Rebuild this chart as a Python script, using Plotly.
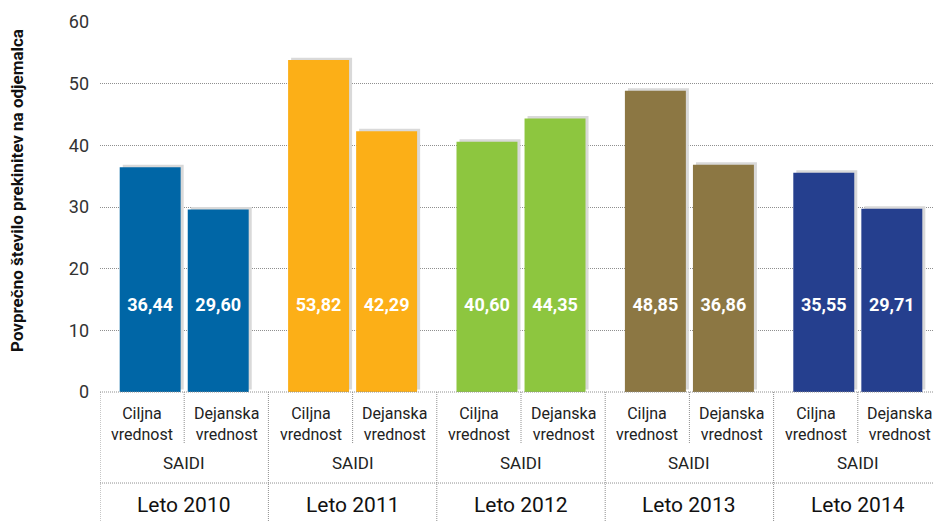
"""SAIDI: ciljna in dejanska vrednost po letih."""
import numpy as np
import plotly.graph_objects as go

# Podatki
LETA = ["Leto 2010", "Leto 2011", "Leto 2012", "Leto 2013", "Leto 2014"]
CILJNA = [36.44, 53.82, 40.60, 48.85, 35.55]
DEJANSKA = [29.60, 42.29, 44.35, 36.86, 29.71]
BARVE = ["#0066a6", "#fcaf17", "#8dc63f", "#8c7743", "#253f8e"]
KAZALNIK = "SAIDI"
PODKATEGORIJE = ["Ciljna<br>vrednost", "Dejanska<br>vrednost"]
Y_TICKS = [0, 10, 20, 30, 40, 50, 60]

FONT = "Roboto, 'Noto Sans', sans-serif"
TXT = "#222222"
GRID = "#8f8f8f"
SENCA = "#d9d9d9"

BAR_W = 0.362
GAP = 0.042
SHIFT = 0.018   # odmik sence (~3 px)
LABEL_Y = 13.8  # višina napisov z vrednostmi

x = np.arange(len(LETA))


def fmt(v):
    return f"{v:.2f}".replace(".", ",")


fig = go.Figure()

# sence
for vals, off in ((CILJNA, -BAR_W - GAP / 2), (DEJANSKA, GAP / 2)):
    fig.add_trace(go.Bar(
        x=x, y=vals, base=0.4, width=BAR_W, offset=off + SHIFT,
        marker=dict(color=SENCA, line_width=0), hoverinfo="skip", showlegend=False,
    ))

# stolpci
for vals, off in ((CILJNA, -BAR_W - GAP / 2), (DEJANSKA, GAP / 2)):
    fig.add_trace(go.Bar(
        x=x, y=vals, width=BAR_W, offset=off,
        marker=dict(color=BARVE, line_width=0), showlegend=False,
    ))

# napisi z vrednostmi
for vals, sign in ((CILJNA, -1), (DEJANSKA, 1)):
    fig.add_trace(go.Scatter(
        x=x + sign * (BAR_W + GAP) / 2, y=[LABEL_Y] * len(vals),
        mode="text", text=[fmt(v) for v in vals],
        textfont=dict(color="white", size=18, family=FONT, weight="bold"),
        hoverinfo="skip", showlegend=False,
    ))

annotations = []
shapes = []
line = dict(color=GRID, width=1, dash="1px,1px")
for i, leto in enumerate(LETA):
    for j, sub in enumerate(PODKATEGORIJE):
        annotations.append(dict(
            x=i + (j - 0.5) * 0.5, y=-0.0865, xref="x", yref="paper",
            xanchor="center", yanchor="middle",
            text=sub, showarrow=False, font=dict(size=16, color=TXT, family=FONT),
        ))
    annotations.append(dict(
        x=i, y=-0.192, xref="x", yref="paper", xanchor="center", yanchor="middle",
        text=KAZALNIK, showarrow=False, font=dict(size=17, color=TXT, family=FONT),
    ))
    annotations.append(dict(
        x=i, y=-0.305, xref="x", yref="paper", xanchor="center", yanchor="middle",
        text=leto, showarrow=False, font=dict(size=21, color="#111111", family=FONT),
    ))
    shapes.append(dict(type="line", xref="x", yref="paper", x0=i, x1=i,
                       y0=0, y1=-0.138, line=line))
    shapes.append(dict(type="line", xref="x", yref="paper", x0=i - 0.5, x1=i - 0.5,
                       y0=0, y1=-0.36, line=line))

shapes.append(dict(type="line", xref="paper", yref="paper", x0=0, x1=1,
                   y0=-0.246, y1=-0.246, line=line))
shapes.append(dict(type="line", xref="paper", yref="paper", x0=0, x1=1,
                   y0=0, y1=0, line=line))

annotations.append(dict(
    x=-0.0986, y=0.546, xref="paper", yref="paper", textangle=-90,
    xanchor="center", yanchor="middle",
    text="<b>Povprečno število prekinitev na odjemalca</b>", showarrow=False,
    font=dict(size=17, color="#111111", family=FONT),
))

# stran ima 8 px robu, zato je graf manjši za ta odmik
fig.update_layout(
    width=934, height=513,
    margin=dict(l=92, r=0, t=14, b=129),
    paper_bgcolor="white", plot_bgcolor="white",
    font=dict(family=FONT, color=TXT),
    barmode="overlay",
    xaxis=dict(range=[-0.5, 4.5], showticklabels=False, showgrid=False,
               zeroline=False, showline=False, fixedrange=True),
    yaxis=dict(range=[0, 60], tickvals=Y_TICKS, showgrid=True, gridcolor=GRID,
               griddash="1px,1px", gridwidth=1, zeroline=False, showline=False,
               tickfont=dict(size=18, color="#333333"), ticklabelstandoff=10,
               fixedrange=True),
    annotations=annotations,
    shapes=shapes,
)

fig.write_html("out.html")
